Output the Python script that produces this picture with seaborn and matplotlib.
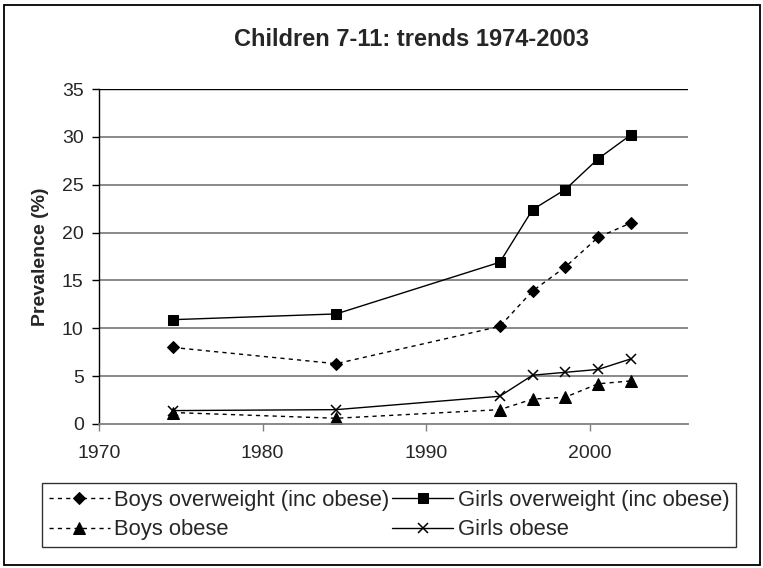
import matplotlib
matplotlib.use("Agg")
import matplotlib.pyplot as plt
from matplotlib.patches import Rectangle
import numpy as np
import pandas as pd
import seaborn as sns

# data
years = [1974.5, 1984.5, 1994.5, 1996.5, 1998.5, 2000.5, 2002.5]
boys_overweight = [8.0, 6.3, 10.2, 13.9, 16.4, 19.5, 21.0]
girls_overweight = [10.9, 11.5, 16.9, 22.4, 24.5, 27.7, 30.2]
boys_obese = [1.2, 0.6, 1.5, 2.6, 2.8, 4.2, 4.5]
girls_obese = [1.4, 1.5, 2.9, 5.1, 5.4, 5.7, 6.8]

series_names = ["Boys overweight (inc obese)", "Girls overweight (inc obese)",
                "Boys obese", "Girls obese"]
series_values = [boys_overweight, girls_overweight, boys_obese, girls_obese]
x_ticks = [1970, 1980, 1990, 2000]
y_ticks = [0, 5, 10, 15, 20, 25, 30, 35]

sns.set_style("white")
plt.rcParams["font.family"] = ["Liberation Sans", "DejaVu Sans"]

W, H = 763, 568
fig = plt.figure(figsize=(W / 100, H / 100), dpi=100)

# outer chart border
fig.patches.append(Rectangle((3.5 / W, 1 - 565 / H), 756 / W, 560 / H,
                             transform=fig.transFigure, fill=False,
                             edgecolor="black", linewidth=1.3))

ax = fig.add_axes([99 / W, 1 - 424 / H, (688 - 99) / W, (424 - 89) / H])

styles = [
    dict(linestyle=(0, (3, 3)), marker="D", markersize=6.5),
    dict(linestyle="-", marker="s", markersize=6.5),
    dict(linestyle=(0, (3, 3)), marker="^", markersize=8),
    dict(linestyle="-", marker="x", markersize=7.5, markeredgewidth=1.1),
]

for name, vals, st in zip(series_names, series_values, styles):
    df = pd.DataFrame({"year": years, "value": vals})
    sns.lineplot(data=df, x="year", y="value", ax=ax, color="black",
                 linewidth=1.0, label=name, markeredgecolor="black",
                 markerfacecolor="black", **st)

ax.set_xlim(1970, 2006)
ax.set_ylim(0, 35)
ax.set_xticks(x_ticks)
ax.set_yticks(y_ticks)
ax.set_xticklabels([str(t) for t in x_ticks])
ax.set_yticklabels([str(t) for t in y_ticks])
ax.tick_params(axis="both", labelsize=14, direction="out", length=5,
               width=1, color="black", bottom=True, left=True)
ax.tick_params(axis="x", pad=10, color="#808080")
ax.tick_params(axis="y", pad=6)
ax.set_xlabel("")
ax.set_ylabel("Prevalence (%)", fontsize=14, fontweight="bold")
ax.yaxis.set_label_coords((49 - 99) / (688 - 99), 0.5)

for y in y_ticks[1:-1]:
    ax.axhline(y, color="#808080", linewidth=1.3, zorder=0)
ax.axhline(35, color="black", linewidth=1.0, zorder=0)

for side in ["top", "right"]:
    ax.spines[side].set_visible(False)
ax.spines["left"].set_color("black")
ax.spines["left"].set_linewidth(1.0)
ax.spines["bottom"].set_color("#808080")
ax.spines["bottom"].set_linewidth(1.3)

title = fig.text(412 / W, 1 - 40 / H, "Children 7-11: trends 1974-2003",
                 ha="center", va="center", fontsize=17, fontweight="bold")

handles, labels = ax.get_legend_handles_labels()
ax.legend_.remove()
# reorder so the two columns read row by row like the original
order = [0, 2, 1, 3]
handles = [handles[i] for i in order]
labels = [labels[i] for i in order]


def make_legend(fs):
    lg = fig.legend(handles, labels, ncol=2, loc="upper right",
                    bbox_to_anchor=(736 / W, 1 - 483 / H), borderaxespad=0,
                    fontsize=fs, frameon=True, fancybox=False,
                    handlelength=2.8, handletextpad=0.2, columnspacing=0.1,
                    borderpad=0.3, labelspacing=0.4)
    lg.get_frame().set_edgecolor("black")
    lg.get_frame().set_linewidth(1.0)
    return lg


leg = make_legend(16)
fig.canvas.draw()
w = leg.get_window_extent().width
fs = 16 * (736 - 40) / w
leg.remove()
leg = make_legend(fs)

fig.savefig("out.png", dpi=100)
